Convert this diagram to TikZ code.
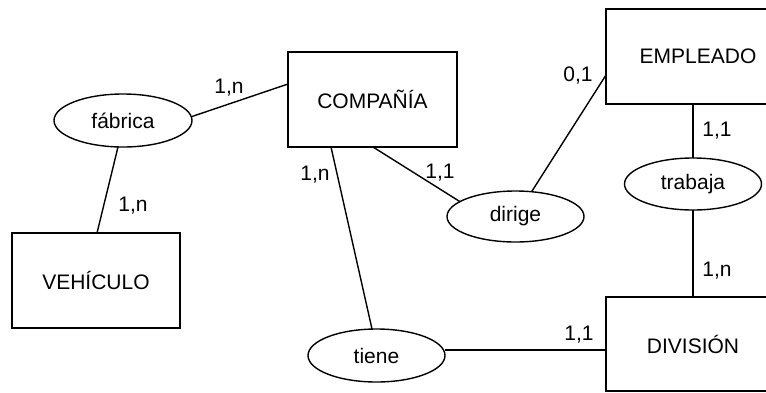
\documentclass[tikz,border=0pt]{standalone}
\usepackage{fontspec}
\setmainfont{Liberation Sans}
\usetikzlibrary{shapes.geometric}
\begin{document}
\begin{tikzpicture}[x=1pt,y=-1pt,
  ent/.style={draw,rectangle,line width=1.4pt,inner sep=0pt,outer sep=0pt,font=\fontsize{21}{25}\selectfont},
  rel/.style={draw,ellipse,line width=1.4pt,inner sep=0pt,outer sep=0pt,font=\fontsize{21}{25}\selectfont},
  conn/.style={line width=1.4pt},
  card/.style={inner sep=0pt,font=\fontsize{21}{25}\selectfont}]
\useasboundingbox (0,0) rectangle (766,392);
\clip (0,0) rectangle (766,392);
% entities
\node[ent,minimum width=169pt,minimum height=95pt] (comp) at (372.5,99.5) {COMPAÑÍA};
\node[ent,minimum width=168pt,minimum height=95pt] (veh) at (96,280.5) {VEHÍCULO};
\node[ent,minimum width=184pt,minimum height=95pt] (emp) at (698,56.5) {EMPLEADO};
\node[ent,minimum width=174pt,minimum height=94pt] (div) at (693,344) {DIVISIÓN};
% relationships
\node[rel,minimum width=138pt,minimum height=53pt] (fab) at (123,120.5) {fábrica};
\node[rel,minimum width=137pt,minimum height=51pt] (dir) at (515.5,216.5) {dirige};
\node[rel,minimum width=137pt,minimum height=52pt] (trab) at (693,184) {trabaja};
\node[rel,minimum width=137pt,minimum height=53pt] (tiene) at (376.5,355.5) {tiene};
% connectors
\draw[conn] ([yshift=4pt]fab.east) -- ([yshift=15.5pt]comp.west);
\draw[conn] ([xshift=-5pt]fab.south) -- ([xshift=1pt]veh.north);
\draw[conn] ([xshift=-41.5pt]comp.south) -- ([xshift=-4.5pt]tiene.north);
\draw[conn] ([xshift=0.5pt]comp.south) -- (dir.165);
\draw[conn] (dir.57) -- ([yshift=-18.5pt]emp.west);
\draw[conn] (trab.north |- emp.south) -- (trab.north);
\draw[conn] (trab.south) -- (trab.south |- div.north);
\draw[conn] ([yshift=5.5pt]tiene.east) coordinate (t1) -- (t1 -| div.west);
% cardinalities
\node[card] (c1) at (229,88) {1,n};
\node[card] (c2) at (133,206) {1,n};
\node[card] (c3) at (315,175) {1,n};
\node[card] (c4) at (440,173) {1,1};
\node[card] (c5) at (578,76) {0,1};
\node[card] (c6) at (717,131) {1,1};
\node[card] (c7) at (717,271) {1,n};
\node[card] (c8) at (579,335) {1,1};
\end{tikzpicture}
\end{document}
